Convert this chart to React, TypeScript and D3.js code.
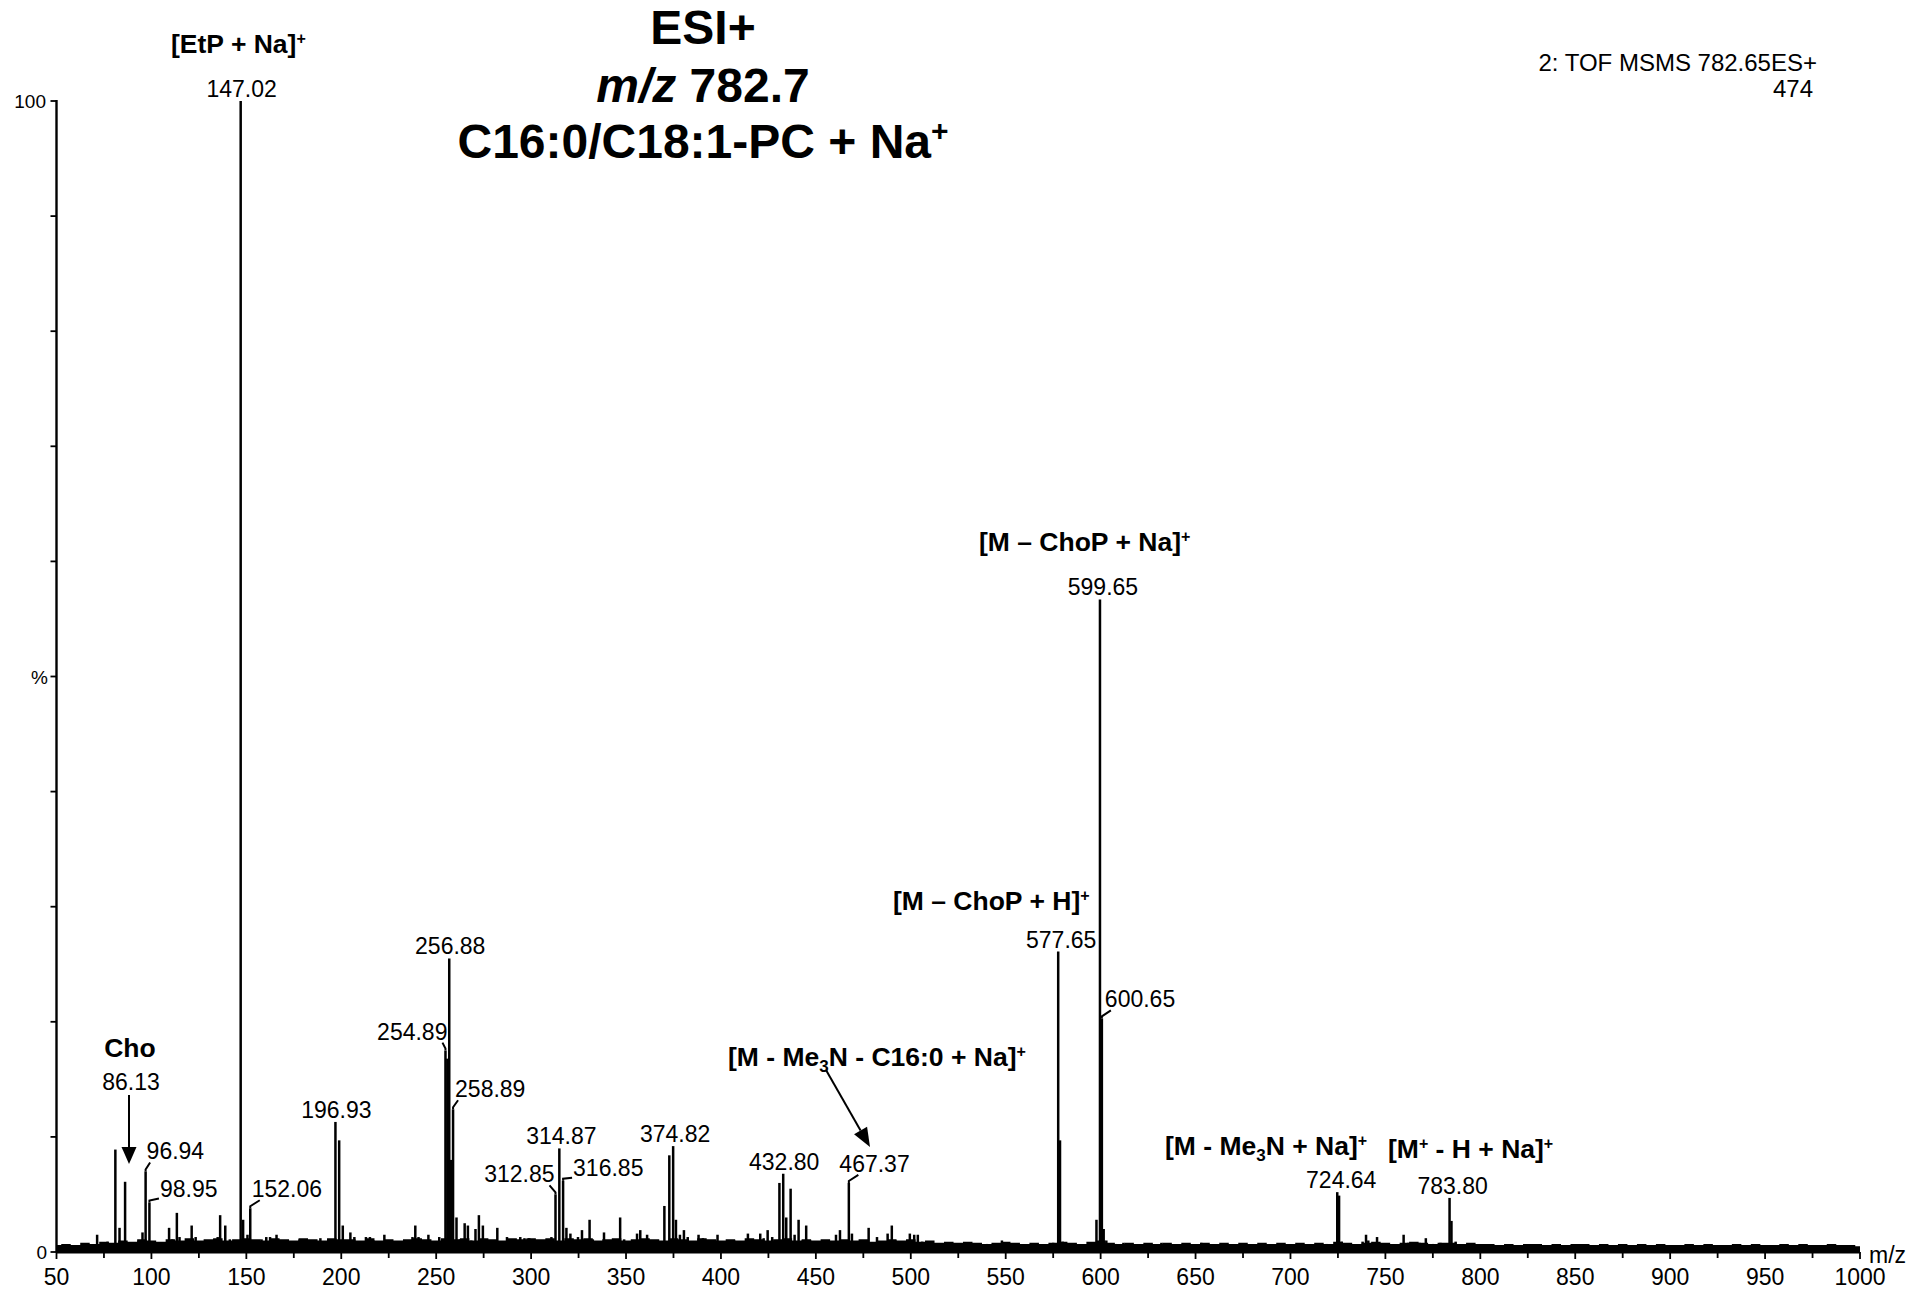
import React from 'react';
import * as d3 from 'd3';

// ---------- DATA ----------
// Spectrum peaks: [m/z, relative intensity %]
const peaks: [number, number][] = [
  [71.4, 1.5], [76.9, 0.9], [81.0, 8.9], [83.2, 2.1], [86.13, 6.1], [88.5, 0.7], [93.2, 1.0], [95.3, 1.7],
  [96.94, 7.0], [98.95, 4.3], [100.5, 0.8], [105.5, 0.6], [109.3, 2.1], [111.0, 1.1], [113.4, 3.4], [114.8, 1.3],
  [117.5, 0.7], [121.2, 2.3], [123.3, 1.3], [125.0, 0.9], [128.5, 0.7], [132.0, 0.6], [134.9, 1.3], [136.2, 3.2],
  [138.9, 2.3], [141.3, 1.1], [143.0, 0.8], [147.02, 100], [148.3, 2.8], [150.6, 1.5], [152.06, 3.8], [155, 0.9],
  [158, 1.1], [160.5, 1.3], [162.5, 1.3], [165.9, 1.5], [168, 0.9], [171, 0.8], [175, 0.9], [178, 1.1],
  [182, 0.9], [186, 0.8], [189, 1.2], [192, 0.9], [196.93, 11.3], [198.9, 9.7], [200.8, 2.3], [202.5, 1.0],
  [204.8, 1.7], [206.9, 1.3], [210, 0.9], [213, 1.3], [215.1, 1.3], [217, 1.0], [220, 0.8], [222.7, 1.5],
  [226, 0.7], [230, 0.8], [235, 0.9], [237.5, 1.3], [239.0, 2.3], [240.7, 1.3], [242.5, 1.0], [245.9, 1.5],
  [249, 0.8], [251.6, 1.3], [254.89, 17.5], [255.88, 16.8], [256.88, 25.5], [257.88, 8.0], [258.89, 12.4], [260.7, 3.0],
  [262.5, 1.1], [265.0, 2.5], [266.7, 2.3], [268.5, 1.0], [270.7, 2.0], [272.5, 3.2], [274.6, 2.3], [277, 1.0],
  [279.5, 0.9], [282.2, 2.1], [284.5, 0.9], [287.3, 1.3], [290, 1.0], [292, 0.9], [294.3, 1.3], [296.5, 1.2],
  [299, 1.2], [301.5, 1.1], [304, 0.9], [306.5, 1.0], [308.5, 0.8], [310.7, 1.3], [312.85, 5.0], [314.87, 9.0],
  [316.85, 6.2], [318.6, 2.1], [320.7, 1.6], [322.5, 0.9], [324.7, 1.3], [326.8, 1.9], [328.5, 1.0], [330.8, 2.8],
  [332.5, 1.1], [335, 0.9], [338.4, 1.7], [340.5, 1.0], [343, 0.9], [346.9, 3.0], [349, 1.1], [352, 0.8],
  [355.8, 1.6], [357.5, 1.9], [359, 1.1], [361.1, 1.5], [364, 1.0], [367, 0.9], [370.2, 4.0], [372.8, 8.4],
  [374.82, 9.2], [376.3, 2.8], [378.4, 1.5], [380.5, 1.9], [382.5, 1.3], [385, 0.9], [388.2, 1.5], [390.5, 1.2],
  [393, 0.9], [396, 1.0], [398.2, 1.5], [401, 0.9], [404, 0.8], [407, 1.0], [410, 0.8], [414.2, 1.6],
  [417, 0.9], [420.7, 1.6], [422.5, 1.2], [424.6, 1.9], [427, 1.3], [430.8, 6.0], [432.8, 6.8], [434.4, 3.0],
  [436.7, 5.5], [438.8, 1.5], [440.9, 2.8], [443, 1.0], [444.9, 2.3], [447, 1.0], [450, 0.8], [453, 0.9],
  [457, 0.8], [460.6, 1.5], [462.7, 1.9], [464.5, 1.0], [467.37, 6.0], [469.0, 1.6], [472, 0.8], [475, 0.9],
  [477.8, 2.1], [480, 0.8], [482.2, 1.3], [485, 0.9], [487.8, 1.6], [490.0, 2.3], [492, 1.0], [495, 0.9],
  [499.5, 1.6], [501.8, 1.5], [503.7, 1.5], [506, 0.9], [510, 0.6], [515, 0.7], [521.8, 0.8], [528, 0.6],
  [534, 0.6], [540, 0.7], [548, 1.0], [552, 0.6], [560, 0.5], [568, 0.6], [575, 0.8], [577.65, 26.1],
  [578.6, 9.7], [580, 0.9], [585, 0.6], [590, 0.5], [597.8, 2.8], [599.65, 56.7], [600.65, 20.3], [601.6, 2.0],
  [603, 1.0], [608, 0.7], [612, 0.8], [620, 0.6], [625, 0.5], [632, 0.8], [640, 0.6], [645, 0.5],
  [653, 0.8], [660, 0.5], [668, 0.5], [675, 0.5], [683, 0.6], [690, 0.5], [698, 0.6], [705, 0.5],
  [713, 0.5], [719, 0.7], [724.64, 5.2], [725.6, 4.9], [727, 0.9], [730, 0.6], [734, 0.6], [738, 0.9],
  [739.8, 1.5], [741, 1.0], [745.6, 1.3], [750, 0.6], [755, 0.6], [759.6, 1.5], [762, 0.8], [765, 0.7],
  [768, 0.8], [771.3, 1.2], [775, 0.7], [779, 0.8], [783.8, 4.7], [784.8, 2.7], [787, 0.9], [790, 0.6],
  [795, 0.5], [800, 0.5], [810, 0.5], [815, 0.4], [830, 0.5], [838, 0.6], [850, 0.6], [860, 0.4],
  [870, 0.4], [885, 0.4], [900, 0.4], [912, 0.3], [930, 0.5], [945, 0.5], [960, 0.3], [980, 0.3],
];

// Noise floor (%), one value every 5 m/z from 50 to 1000
const noiseStartMz = 50;
const noiseStepMz = 5;
const noiseFloor: number[] = [
  0.6, 0.7, 0.6, 0.8, 0.7, 0.9, 0.8, 1.0, 0.9, 1.1, 1.0,
  0.9, 1.1, 1.0, 1.2, 1.0, 1.1, 1.2, 1.0, 1.1, 1.2, 1.1, 1.0, 1.2, 1.1, 1.0, 1.2, 1.1, 1.0, 1.2, 1.1,
  1.1, 1.0, 1.2, 1.0, 1.1, 1.0, 1.1, 1.2, 1.1, 1.0, 1.2, 1.1, 1.2, 1.0, 1.2, 1.1, 1.0, 1.2, 1.1, 1.2,
  1.1, 1.2, 1.0, 1.2, 1.1, 1.2, 1.0, 1.1, 1.2, 1.0, 1.1, 1.2, 1.1, 1.0, 1.2, 1.1, 1.0, 1.2, 1.1, 1.0,
  1.1, 1.0, 1.2, 1.1, 1.0, 1.1, 1.2, 1.0, 1.1, 1.0, 1.1, 1.0, 1.1, 1.0, 1.1, 0.9, 1.0, 1.1, 1.0, 1.1,
  0.9, 1.0, 0.8, 0.9, 0.8, 0.9, 0.8, 0.7, 0.8, 0.9, 0.8, 0.7, 0.8, 0.7, 0.8, 0.9, 0.8, 0.7, 0.9, 1.0,
  0.8, 0.7, 0.8, 0.7, 0.8, 0.7, 0.8, 0.7, 0.8, 0.7, 0.8, 0.7, 0.8, 0.7, 0.8, 0.7, 0.8, 0.7, 0.8, 0.7,
  0.8, 0.7, 0.8, 0.7, 0.9, 0.8, 0.7, 0.8, 0.9, 0.8, 0.7, 0.8, 0.9, 0.8, 0.7, 0.8, 0.8, 0.7, 0.8, 0.7,
  0.7, 0.6, 0.7, 0.6, 0.7, 0.7, 0.6, 0.7, 0.6, 0.7, 0.7, 0.6, 0.7, 0.6, 0.7, 0.6, 0.7, 0.6, 0.7, 0.6,
  0.6, 0.7, 0.6, 0.7, 0.6, 0.6, 0.7, 0.6, 0.7, 0.6, 0.6, 0.7, 0.6, 0.7, 0.6, 0.6, 0.7, 0.6, 0.6, 0.5,
];

const xTickLabels = [50, 100, 150, 200, 250, 300, 350, 400, 450, 500, 550, 600, 650, 700, 750, 800, 850, 900, 950, 1000];
const xMinorTicks = [75, 125, 175, 225, 275, 325, 375, 425, 475, 525, 575, 625, 675, 725, 775, 825, 875, 925, 975];
const yTicks = [0, 10, 20, 30, 40, 50, 60, 70, 80, 90, 100];

// Labels directly above peaks
const topLabels = ['147.02', '599.65', '577.65', '256.88', '196.93', '314.87', '374.82', '432.80', '724.64', '783.80'];
// Labels joined to their peak by a leader line
const leaderLabels = ['96.94', '98.95', '152.06', '254.89', '258.89', '312.85', '316.85', '467.37', '600.65'];

// ---------- LAYOUT ----------
const W = 1932;
const H = 1290;
const FONT = "'Liberation Sans', Arial, Helvetica, sans-serif";

const topLabelDx: Record<string, number> = {
  '147.02': 1, '599.65': 3, '577.65': 3, '256.88': 1, '196.93': 1, '314.87': 2, '374.82': 2, '432.80': 1, '724.64': 4, '783.80': 3,
};
const leaderLayout: Record<string, { anchor: 'start' | 'end'; tdx: number; tdy: number; edx: number; edy: number }> = {
  '96.94': { anchor: 'start', tdx: 1, tdy: -12, edx: 4.5, edy: -9 },
  '98.95': { anchor: 'start', tdx: 10.5, tdy: -6, edx: 9.5, edy: -4 },
  '152.06': { anchor: 'start', tdx: 1.5, tdy: -11, edx: 9.5, edy: -8 },
  '254.89': { anchor: 'end', tdx: 2, tdy: -11, edx: -3, edy: -8 },
  '258.89': { anchor: 'start', tdx: 2, tdy: -12, edx: 5, edy: -9 },
  '312.85': { anchor: 'end', tdx: -1, tdy: -12, edx: -6, edy: -9 },
  '316.85': { anchor: 'start', tdx: 10, tdy: -5, edx: 9, edy: -3 },
  '467.37': { anchor: 'start', tdx: -9.5, tdy: -11, edx: 9.5, edy: -8 },
  '600.65': { anchor: 'start', tdx: 3, tdy: -11, edx: 9, edy: -8 },
};

function pctOf(mzText: string): [number, number] {
  const mz = parseFloat(mzText);
  let best = peaks[0];
  for (const p of peaks) if (Math.abs(p[0] - mz) < Math.abs(best[0] - mz)) best = p;
  return best;
}

function Arrow({ x1, y1, x2, y2, head = 17, width = 15 }: { x1: number; y1: number; x2: number; y2: number; head?: number; width?: number }) {
  const ang = Math.atan2(y2 - y1, x2 - x1);
  const bx = x2 - head * Math.cos(ang);
  const by = y2 - head * Math.sin(ang);
  const px = -Math.sin(ang) * (width / 2);
  const py = Math.cos(ang) * (width / 2);
  return (
    <g>
      <line x1={x1} y1={y1} x2={bx} y2={by} stroke="#000" strokeWidth={2} />
      <polygon points={`${x2},${y2} ${bx + px},${by + py} ${bx - px},${by - py}`} fill="#000" />
    </g>
  );
}

export default function App() {
  const x = d3.scaleLinear().domain([50, 1000]).range([56.5, 1860]);
  const y = d3.scaleLinear().domain([0, 100]).range([1252, 101]);

  const noiseArea = d3
    .area<number>()
    .x((_, i) => x(noiseStartMz + i * noiseStepMz))
    .y0(y(0))
    .y1((d) => y(d))
    .curve(d3.curveStep);

  const numFont = 23;
  const boldFont = 26.5;

  return (
    <svg width={W} height={H} style={{ position: 'absolute', left: 0, top: 0, background: '#fff' }} fontFamily={FONT}>
      <rect x={0} y={0} width={W} height={H} fill="#fff" />

      {/* noise floor */}
      <path d={noiseArea(noiseFloor) || ''} fill="#000" />

      {/* peaks */}
      {peaks.map(([mz, p], i) => (
        <line key={i} x1={x(mz)} x2={x(mz)} y1={y(0)} y2={y(p)} stroke="#000" strokeWidth={2.5} />
      ))}

      {/* axes */}
      <line x1={x(50)} x2={x(50)} y1={y(100) - 1} y2={y(0)} stroke="#000" strokeWidth={2.4} />
      <line x1={x(50)} x2={x(1000)} y1={y(0)} y2={y(0)} stroke="#000" strokeWidth={3} />
      {yTicks.map((t) => (
        <line key={t} x1={x(50) - 6} x2={x(50)} y1={y(t)} y2={y(t)} stroke="#000" strokeWidth={1.8} />
      ))}
      {xTickLabels.map((t) => (
        <g key={t}>
          <line x1={x(t)} x2={x(t)} y1={y(0)} y2={y(0) + 7} stroke="#000" strokeWidth={1.8} />
          <text x={x(t)} y={1285} fontSize={numFont} textAnchor="middle">{t}</text>
        </g>
      ))}
      {xMinorTicks.map((t) => (
        <line key={t} x1={x(t)} x2={x(t)} y1={y(0)} y2={y(0) + 6} stroke="#000" strokeWidth={1.8} />
      ))}
      <text x={1869} y={1263} fontSize={numFont}>m/z</text>
      <text x={46} y={y(100) + 7} fontSize={19} textAnchor="end">100</text>
      <text x={48} y={y(50) + 7} fontSize={19} textAnchor="end">%</text>
      <text x={47} y={y(0) + 7} fontSize={19} textAnchor="end">0</text>

      {/* header */}
      <text x={1817} y={71} fontSize={24} textAnchor="end">2: TOF MSMS 782.65ES+</text>
      <text x={1813} y={97} fontSize={24} textAnchor="end">474</text>

      {/* title */}
      <g fontWeight="bold" fontSize={48} textAnchor="middle">
        <text x={703} y={44}>ESI+</text>
        <text x={703} y={102}>
          <tspan fontStyle="italic">m/z</tspan>
          <tspan> 782.7</tspan>
        </text>
        <text x={703} y={158}>
          C16:0/C18:1-PC + Na<tspan fontSize={30} dy={-17}>+</tspan>
        </text>
      </g>

      {/* top labels */}
      {topLabels.map((t) => {
        const [mz, p] = pctOf(t);
        return (
          <text key={t} x={x(mz) + topLabelDx[t]} y={y(p) - 4} fontSize={numFont} textAnchor="middle">{t}</text>
        );
      })}

      {/* leader labels */}
      {leaderLabels.map((t) => {
        const [mz, p] = pctOf(t);
        const L = leaderLayout[t];
        const px = x(mz);
        const py = y(p);
        return (
          <g key={t}>
            <polyline
              points={`${px},${py} ${px},${py - 2} ${px + L.edx},${py + L.edy}`}
              fill="none"
              stroke="#000"
              strokeWidth={2}
            />
            <text x={px + L.tdx} y={py + L.tdy} fontSize={numFont} textAnchor={L.anchor}>{t}</text>
          </g>
        );
      })}

      {/* Cho annotation */}
      <text x={130} y={1057} fontSize={boldFont} fontWeight="bold" textAnchor="middle">Cho</text>
      <text x={131} y={1090} fontSize={numFont} textAnchor="middle">86.13</text>
      <Arrow x1={x(88.2)} y1={1095} x2={x(88.2)} y2={1164} />

      {/* bold ion annotations */}
      <g fontWeight="bold" fontSize={boldFont}>
        <text x={171} y={53}>[EtP + Na]<tspan fontSize={16} dy={-9}>+</tspan></text>
        <text x={979} y={551}>[M – ChoP + Na]<tspan fontSize={16} dy={-9}>+</tspan></text>
        <text x={893} y={910}>[M – ChoP + H]<tspan fontSize={16} dy={-9}>+</tspan></text>
        <text x={728} y={1066}>
          [M - Me<tspan fontSize={17} dy={6}>3</tspan><tspan dy={-6}>N - C16:0 + Na]</tspan><tspan fontSize={16} dy={-9}>+</tspan>
        </text>
        <text x={1165} y={1155}>
          [M - Me<tspan fontSize={17} dy={6}>3</tspan><tspan dy={-6}>N + Na]</tspan><tspan fontSize={16} dy={-9}>+</tspan>
        </text>
        <text x={1388} y={1158}>
          [M<tspan fontSize={16} dy={-9}>+</tspan><tspan dy={9}> - H + Na]</tspan><tspan fontSize={16} dy={-9}>+</tspan>
        </text>
      </g>
      <Arrow x1={826} y1={1070} x2={870} y2={1147} head={19} width={15} />
    </svg>
  );
}
